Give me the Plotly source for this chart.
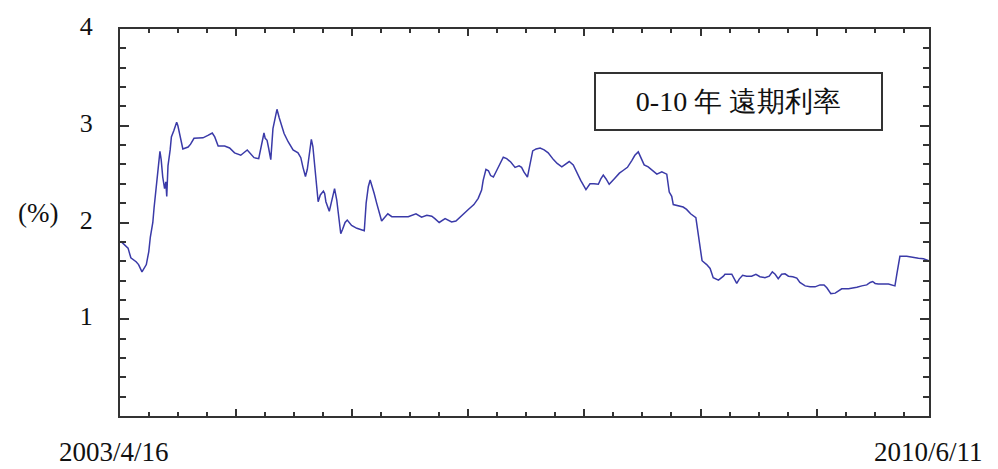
import pandas as pd
import plotly.graph_objects as go

# Observation dates, stored as days elapsed since the first observation
start_date = "2003-04-16"
end_date = "2010-06-11"
day_offset = [
    3, 26, 35, 52, 60, 71, 85, 93, 98, 106, 110, 115, 120, 126, 129, 133, 138, 144, 148, 151,
    155, 162, 166, 174, 183, 187, 194, 203, 220, 228, 239, 268, 284, 298, 306, 317, 338, 354, 370, 390,
    411, 433, 448, 456, 465, 469, 475, 480, 487, 494, 502, 507, 514, 521, 530, 543, 559, 575, 584, 591,
    599, 605, 613, 618, 623, 629, 634, 640, 647, 657, 661, 665, 676, 687, 693, 700, 705, 713, 719, 727,
    734, 748, 765, 781, 789, 795, 802, 808, 814, 821, 829, 837, 845, 854, 865, 878, 931, 956, 974, 991,
    1007, 1017, 1031, 1050, 1060, 1071, 1085, 1096, 1109, 1125, 1143, 1157, 1168, 1173, 1182, 1190, 1197, 1206, 1217, 1227,
    1238, 1249, 1262, 1276, 1289, 1297, 1305, 1316, 1324, 1333, 1344, 1357, 1370, 1383, 1400, 1412, 1427, 1437, 1451, 1464,
    1475, 1488, 1505, 1518, 1531, 1545, 1553, 1561, 1570, 1580, 1596, 1613, 1626, 1639, 1653, 1663, 1674, 1682, 1693, 1706,
    1721, 1734, 1750, 1766, 1774, 1782, 1787, 1803, 1819, 1830, 1843, 1860, 1868, 1873, 1880, 1895, 1906, 1916, 1933, 1949,
    1954, 1976, 1983, 1992, 2000, 2011, 2024, 2040, 2054, 2067, 2083, 2097, 2107, 2116, 2126, 2137, 2148, 2159, 2173, 2186,
    2196, 2213, 2229, 2245, 2261, 2274, 2283, 2296, 2310, 2320, 2331, 2353, 2369, 2380, 2396, 2412, 2423, 2431, 2439, 2449,
    2482, 2493, 2503, 2509, 2514, 2519, 2541, 2557, 2579, 2595, 2613,
]

# 0-10 year forward rate (%)
forward_rate = [
    1.805, 1.735, 1.635, 1.595, 1.565, 1.49, 1.565, 1.70, 1.85, 2.00, 2.15, 2.30, 2.47, 2.635, 2.735, 2.65, 2.47, 2.35, 2.42, 2.27,
    2.585, 2.75, 2.885, 2.95, 3.035, 3.00, 2.90, 2.76, 2.78, 2.81, 2.87, 2.875, 2.90, 2.925, 2.885, 2.79, 2.79, 2.77, 2.72, 2.695,
    2.75, 2.67, 2.66, 2.785, 2.925, 2.87, 2.85, 2.77, 2.65, 2.97, 3.12, 3.17, 3.085, 3.00, 2.92, 2.835, 2.75, 2.72, 2.67, 2.57,
    2.475, 2.55, 2.77, 2.86, 2.785, 2.60, 2.435, 2.215, 2.285, 2.325, 2.30, 2.215, 2.115, 2.285, 2.35, 2.235, 2.085, 1.885, 1.93, 2.00,
    2.025, 1.97, 1.94, 1.92, 1.915, 2.20, 2.37, 2.44, 2.385, 2.30, 2.20, 2.10, 2.015, 2.05, 2.09, 2.06, 2.06, 2.09, 2.055, 2.075,
    2.065, 2.04, 2.00, 2.04, 2.025, 2.005, 2.015, 2.05, 2.09, 2.135, 2.185, 2.25, 2.335, 2.435, 2.55, 2.535, 2.485, 2.47, 2.54, 2.61,
    2.675, 2.66, 2.625, 2.57, 2.585, 2.57, 2.52, 2.47, 2.60, 2.74, 2.76, 2.77, 2.75, 2.72, 2.65, 2.61, 2.575, 2.60, 2.63, 2.595,
    2.52, 2.435, 2.34, 2.40, 2.40, 2.395, 2.45, 2.49, 2.45, 2.395, 2.45, 2.51, 2.54, 2.57, 2.64, 2.695, 2.73, 2.675, 2.595, 2.575,
    2.535, 2.50, 2.525, 2.50, 2.315, 2.27, 2.185, 2.175, 2.16, 2.135, 2.09, 2.05, 1.85, 1.73, 1.605, 1.565, 1.525, 1.43, 1.405, 1.445,
    1.465, 1.465, 1.425, 1.37, 1.415, 1.455, 1.445, 1.445, 1.465, 1.44, 1.43, 1.445, 1.49, 1.465, 1.42, 1.465, 1.47, 1.445, 1.44, 1.425,
    1.38, 1.345, 1.335, 1.335, 1.355, 1.355, 1.325, 1.265, 1.27, 1.29, 1.315, 1.315, 1.32, 1.33, 1.345, 1.355, 1.38, 1.39, 1.37, 1.365,
    1.365, 1.355, 1.345, 1.465, 1.565, 1.65, 1.65, 1.64, 1.63, 1.625, 1.605,
]

y_ticks = [1, 2, 3, 4]
series_title = "0-10 年 遠期利率"
y_unit = "(%)"

dates = pd.Timestamp(start_date) + pd.to_timedelta(day_offset, unit="D")

DAY_MS = 86400000
SERIF = "Liberation Serif"
AXIS_COLOR = "#333333"
TEXT_COLOR = "#111111"

fig = go.Figure()
fig.add_trace(go.Scatter(
    x=dates, y=forward_rate, mode="lines",
    line=dict(color="#3a3aa8", width=1.5),
    showlegend=False, hoverinfo="skip",
))

fig.update_layout(
    width=998, height=469,
    margin=dict(l=120, r=69, t=17, b=53),
    paper_bgcolor="white", plot_bgcolor="white",
    font=dict(family=SERIF, color=TEXT_COLOR),
)

fig.update_xaxes(
    type="date",
    range=[start_date, end_date],
    showgrid=False, zeroline=False,
    showline=True, linecolor=AXIS_COLOR, linewidth=2,
    mirror="ticks",
    ticks="inside", ticklen=7, tickwidth=1.5, tickcolor=AXIS_COLOR,
    tick0=start_date, dtick=375 * DAY_MS,
    minor=dict(ticks="inside", ticklen=4, tickwidth=1.5, tickcolor=AXIS_COLOR,
               tick0=start_date, dtick=93.75 * DAY_MS, showgrid=False),
    showticklabels=False,
)

fig.update_yaxes(
    range=[0, 4],
    showgrid=False, zeroline=False,
    showline=True, linecolor=AXIS_COLOR, linewidth=2,
    mirror="ticks",
    ticks="inside", ticklen=9, tickwidth=1.5, tickcolor=AXIS_COLOR,
    tickvals=y_ticks, ticktext=[str(v) for v in y_ticks],
    minor=dict(ticks="inside", ticklen=6, tickwidth=1.5, tickcolor=AXIS_COLOR,
               dtick=0.2, showgrid=False),
    tickfont=dict(family=SERIF, size=26, color=TEXT_COLOR),
    ticklabelstandoff=20,
    ticklabelshift=-3,
)

# Unit label on the left
fig.add_annotation(
    xref="paper", yref="paper", x=0, y=0.525, xshift=-82,
    text=y_unit, showarrow=False,
    font=dict(family=SERIF, size=27, color=TEXT_COLOR),
    xanchor="center", yanchor="middle",
)

# Date labels under the two ends of the time axis
for pos, shift, label in [(0, -6, start_date), (1, -1, end_date)]:
    y, m, d = label.split("-")
    fig.add_annotation(
        xref="paper", yref="paper", x=pos, y=0, xshift=shift, yshift=-36,
        text=f"{int(y)}/{int(m)}/{int(d)}", showarrow=False,
        font=dict(family=SERIF, size=27, color=TEXT_COLOR),
        xanchor="center", yanchor="middle",
    )

# Boxed series title
fig.add_annotation(
    xref="paper", yref="paper", x=0.7645, y=0.813,
    text=series_title, showarrow=False,
    width=285, height=55,
    bordercolor="#333333", borderwidth=2, borderpad=0,
    bgcolor="white", align="center", valign="middle",
    font=dict(family=SERIF, size=28, color=TEXT_COLOR),
    xanchor="center", yanchor="middle",
)

fig.write_html("out.html")
